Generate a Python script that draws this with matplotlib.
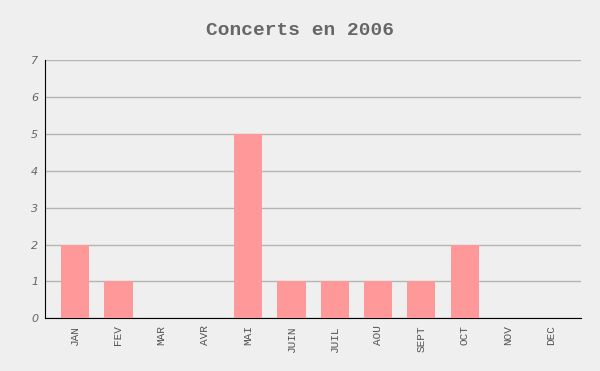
import matplotlib
matplotlib.use("Agg")
import matplotlib.pyplot as plt

mois = ["JAN", "FEV", "MAR", "AVR", "MAI", "JUIN", "JUIL", "AOU", "SEPT", "OCT", "NOV", "DEC"]
concerts = [2, 1, 0, 0, 5, 1, 1, 1, 1, 2, 0, 0]

fig = plt.figure(figsize=(6, 3.71), dpi=100, facecolor="#efefef")
ax = fig.add_axes([0.0755, 0.142, 0.893, 0.696])
ax.set_facecolor("#efefef")

ax.bar(range(len(mois)), concerts, width=0.65, color="#ff9999", zorder=3)
ax.set_xlim(-0.69, len(mois) - 1 + 0.69)
ax.set_ylim(0, 7)
ax.set_yticks(range(8))
ax.yaxis.grid(True, color="#b4b4b4", linewidth=1, zorder=0)

ax.set_xticks(range(len(mois)))
ax.set_xticklabels(mois, rotation=90, family="Liberation Mono", fontsize=8, color="#555555")
for t in ax.get_yticklabels():
    t.set_fontstyle("italic")
    t.set_fontsize(8)
    t.set_color("#666666")
    t.set_family("DejaVu Sans")
ax.tick_params(axis="x", length=0, pad=5)
ax.tick_params(axis="y", length=0, pad=5)

for s in ["top", "right"]:
    ax.spines[s].set_visible(False)
ax.spines["left"].set_color("black")
ax.spines["bottom"].set_color("black")

fig.text(0.5, 0.918, "Concerts en 2006", ha="center", va="center",
         family="Liberation Mono", fontweight="bold", fontsize=14, color="#666666")

fig.savefig("out.png", dpi=100, facecolor=fig.get_facecolor())
